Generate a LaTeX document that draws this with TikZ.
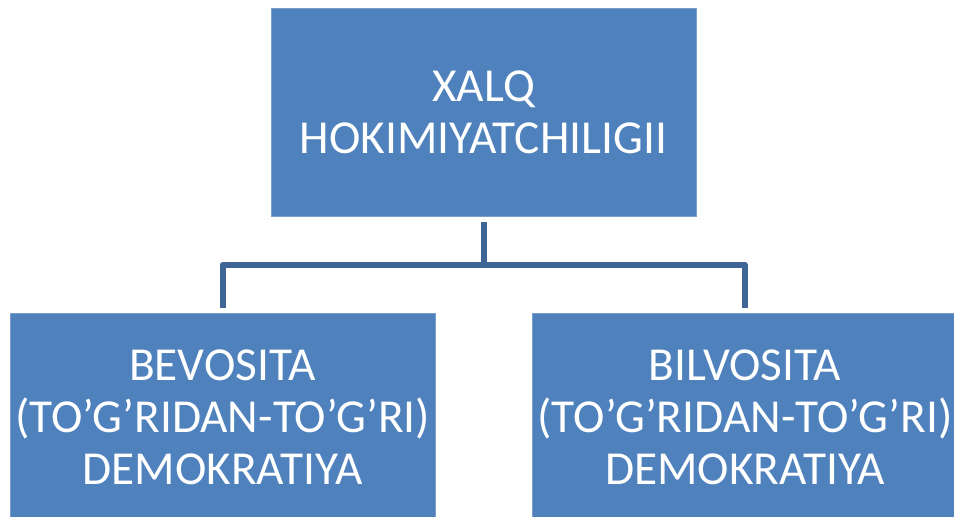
\documentclass[tikz,border=0pt]{standalone}
\usepackage{fontspec}
\setmainfont{Carlito}
\usepackage{tikz}
\definecolor{boxblue}{HTML}{4F81BD}
\definecolor{boxedge}{HTML}{7A9DCB}
\definecolor{linkblue}{HTML}{3F6597}

\begin{document}
\begin{tikzpicture}[x=1bp, y=-1bp,
  blockbox/.style={rectangle, fill=boxblue, draw=boxedge, line width=0.8bp,
    minimum width=425bp, minimum height=208bp, inner sep=0pt,
    text=white, align=center, font=\fontsize{47.5}{52}\selectfont},
  link/.style={draw=linkblue, line width=6bp, line join=round}]
\useasboundingbox (0,0) rectangle (954,517);

\node[blockbox] (top) at (483.5,112) {XALQ\\HOKIMIYATCHILIGII};
\node[blockbox] (bevo) at (222.5,417) {BEVOSITA\\(TO’G’RIDAN-TO’G’RI)\\DEMOKRATIYA};
\node[blockbox] (bilvo) at (745,417) {BILVOSITA\\(TO’G’RIDAN-TO’G’RI)\\DEMOKRATIYA};

\coordinate (fork) at (483.5,265);
  \draw[link] ([yshift=-6bp]top.south) -- (fork);
  \draw[link] ([yshift=5bp]bevo.north) |- (fork) -| ([yshift=5bp]bilvo.north);
\end{tikzpicture}
\end{document}
